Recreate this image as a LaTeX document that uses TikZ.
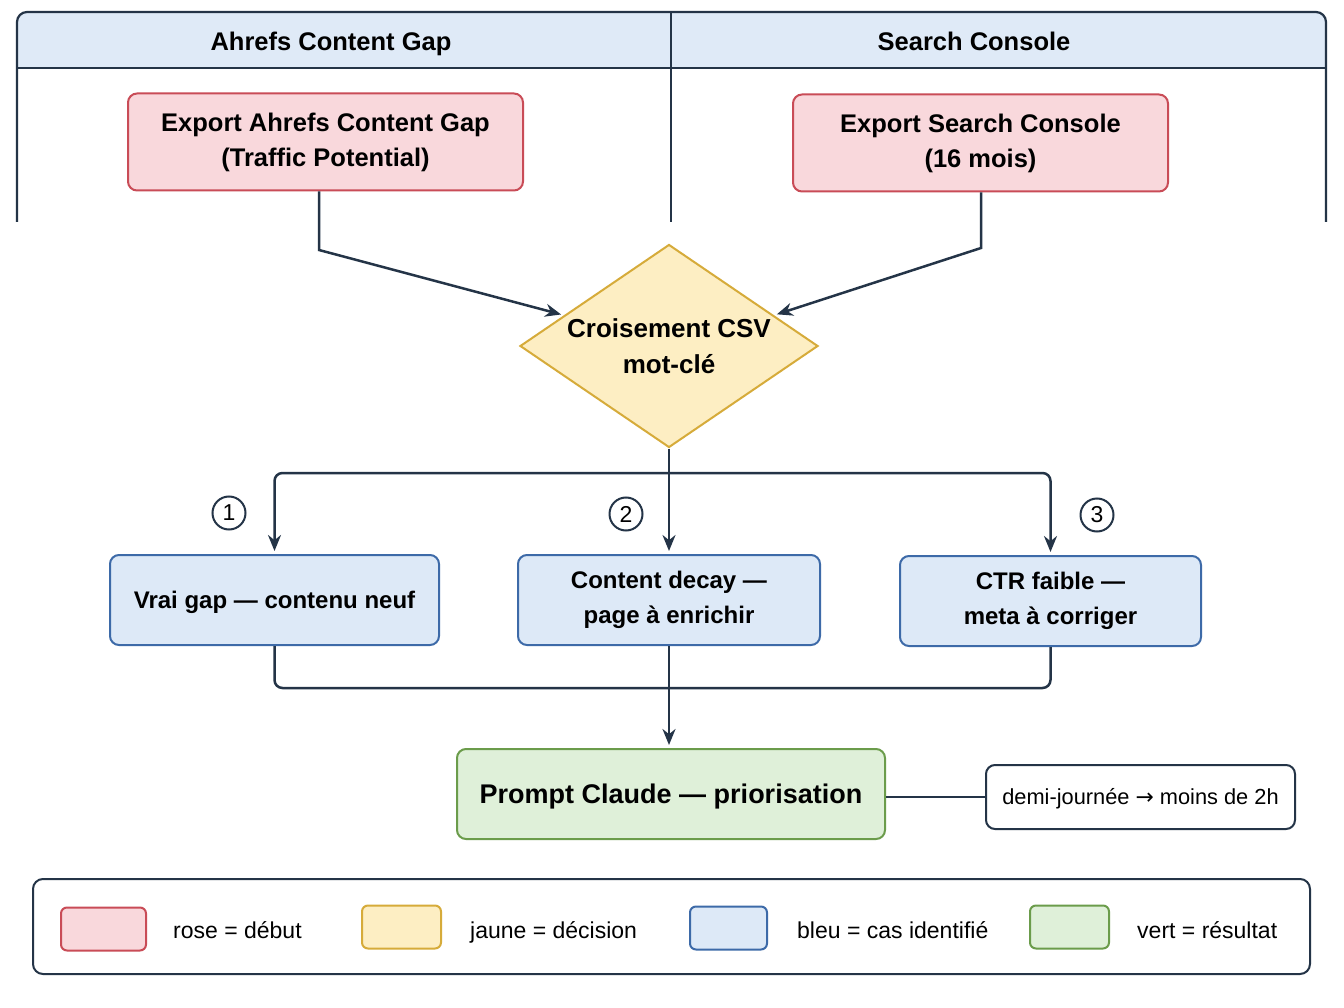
\documentclass[tikz,border=0pt]{standalone}
\usepackage{fontspec}
\setmainfont{Liberation Sans}
\newfontfamily\dv{DejaVu Sans}
\usetikzlibrary{shapes.geometric,arrows.meta,calc}
\definecolor{lineC}{HTML}{243447}
\definecolor{hdrF}{HTML}{DFEAF7}
\definecolor{pinkF}{HTML}{F9D8DC}
\definecolor{pinkD}{HTML}{C94C57}
\definecolor{yelF}{HTML}{FDEEC3}
\definecolor{yelD}{HTML}{D6AB3A}
\definecolor{bluF}{HTML}{DDE9F7}
\definecolor{bluD}{HTML}{3D6AA8}
\definecolor{grnF}{HTML}{DFF0D9}
\definecolor{grnD}{HTML}{6B9C4B}
\begin{document}
\begin{tikzpicture}[x=1pt,y=-1pt,
  box/.style={draw, rounded corners=9, line width=2, align=center, inner sep=0,
    font=\bfseries\fontsize{24}{35}\selectfont},
  pinkbox/.style={box, fill=pinkF, draw=pinkD, minimum width=395, minimum height=97,
    font=\bfseries\fontsize{25.5}{35}\selectfont},
  bluebox/.style={box, fill=bluF, draw=bluD, minimum height=90},
  greenbox/.style={box, fill=grnF, draw=grnD, minimum width=428, minimum height=90,
    font=\bfseries\fontsize{27}{33}\selectfont, text height=19.5, text depth=-4},
  notebox/.style={box, fill=white, draw=lineC, minimum width=309, minimum height=64,
    font=\fontsize{21.8}{25}\selectfont, text height=15.5, text depth=0},
  hdr/.style={font=\bfseries\fontsize{25.5}{29}\selectfont, inner sep=0, text height=18.5, text depth=0},
  line/.style={draw=lineC, line width=2.5},
  arr/.style={line, -{Stealth[length=16,width=13]}},
  num/.style={circle, draw=lineC, line width=2, minimum size=33, inner sep=0,
    font=\fontsize{23}{23}\selectfont},
  swatch/.style={draw, rounded corners=6, line width=2, minimum width=80, minimum height=43, inner sep=0},
  leg/.style={font=\fontsize{23}{27}\selectfont, inner sep=0, anchor=base west}
]
\useasboundingbox (0,0) rectangle (1344,1008);
\fill[white] (0,0) rectangle (1344,1008);

% swimlanes
\fill[hdrF] (17,68) [rounded corners=10]-- (17,12) -- (1326,12) [sharp corners]-- (1326,68) -- cycle;
\draw[line, line width=2.2, rounded corners=10] (17,222) -- (17,12) -- (1326,12) -- (1326,222);
\draw[line, line width=2.2] (17,68) -- (1326,68);
\draw[line, line width=2.2] (671,12) -- (671,222);
\node[hdr] (hA) at (331,41) {Ahrefs Content Gap};
\node[hdr] (hB) at (974,41) {Search Console};

% start boxes
\node[pinkbox] (A) at (325.5,142) {Export Ahrefs Content Gap\\(Traffic Potential)};
\node[pinkbox, minimum width=375] (B) at (980.5,143) {Export Search Console\\(16 mois)};

% decision
\node[diamond, draw=yelD, fill=yelF, line width=2, aspect=1.468, minimum width=298, minimum height=203,
  inner sep=0, align=center, font=\bfseries\fontsize{26}{36}\selectfont] (D) at (669,346) {Croisement CSV\\mot-clé};

\coordinate (dA) at ($(D.west)!0.3!(D.north)$);
\coordinate (dB) at ($(D.east)!0.3!(D.north)$);
\draw[arr, shorten >=3] (A.south -| 319,0) -- (319,250) -- (dA);
\draw[arr, shorten >=3] (B.south -| 981,0) -- (981,248) -- (dB);

% cases
\node[bluebox, minimum width=329, text height=17.5, text depth=0] (V1) at (274.5,600) {Vrai gap — contenu neuf};
\node[bluebox, minimum width=302] (V2) at (669,600) {Content decay —\\page à enrichir};
\node[bluebox, minimum width=301] (V3) at (1050.5,601) {CTR faible —\\meta à corriger};

\coordinate (split) at (669,473);
\draw[line] (D.south) -- (split);
\draw[arr, rounded corners=8, shorten >=3] (split) -| (V1.north);
\draw[arr, shorten >=3] (split) -- (V2.north);
\draw[arr, rounded corners=8, shorten >=3] (split) -| (V3.north);

\node[num] (n1) at (229,513) {1};
\node[num] (n2) at (626,514) {2};
\node[num] (n3) at (1097,515) {3};

% result
\node[greenbox] (P) at (671,794) {Prompt Claude — priorisation};
\node[notebox] (N) at (1140.5,797) {demi-journée {\dv→} moins de 2h};

\coordinate (merge) at (669,688);
\draw[line, rounded corners=8] (V1.south) |- (merge);
\draw[line, rounded corners=8] (V3.south) |- (merge);
\draw[arr, shorten >=3] (V2.south) -- (V2.south |- P.north);
\draw[line] (N.west -| P.east) -- (N.west);

% legend
\node[draw=lineC, line width=2, rounded corners=10, minimum width=1277, minimum height=95, inner sep=0] (L) at (671.5,926.5) {};
\node[swatch, fill=pinkF, draw=pinkD, minimum width=85] (s1) at (103.5,929) {};
\node[leg] (l1) at (173,938) {rose = début};
\node[swatch, fill=yelF, draw=yelD, minimum width=79] (s2) at (401.5,927) {};
\node[leg] (l2) at (470,938) {jaune = décision};
\node[swatch, fill=bluF, draw=bluD, minimum width=77] (s3) at (728.5,928) {};
\node[leg] (l3) at (797,938) {bleu = cas identifié};
\node[swatch, fill=grnF, draw=grnD, minimum width=79] (s4) at (1069.5,927) {};
\node[leg] (l4) at (1137,938) {vert = résultat};
\end{tikzpicture}
\end{document}
